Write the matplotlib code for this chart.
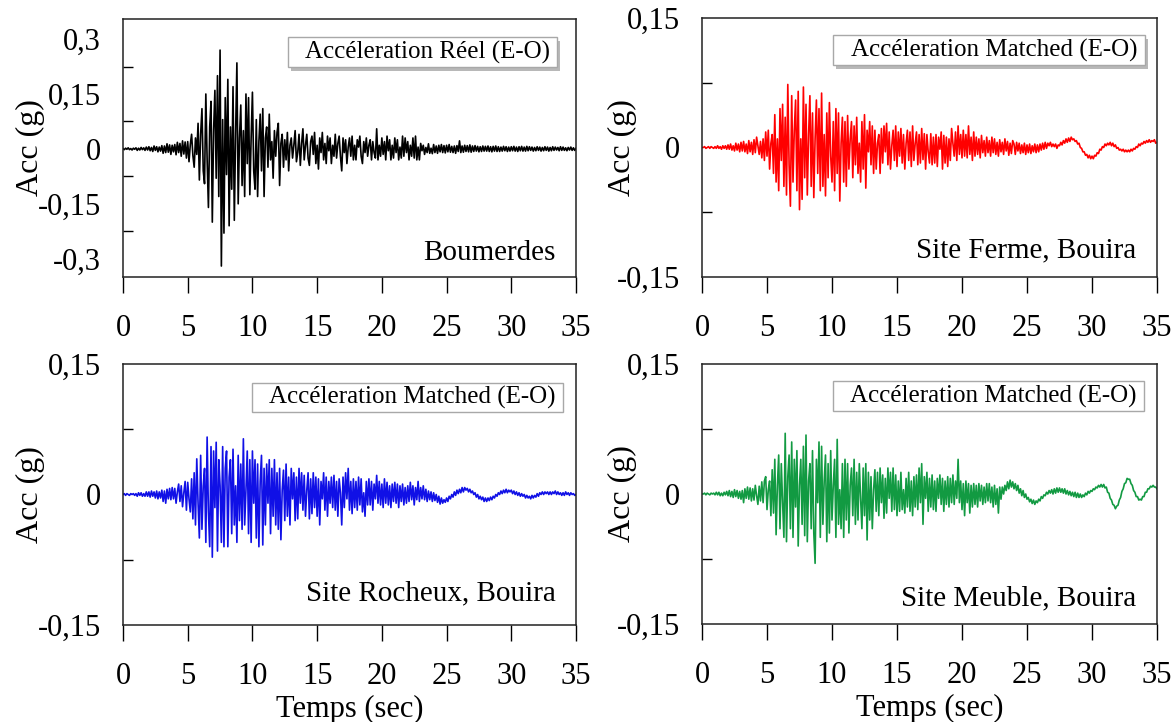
"""Accelerograms (E-O): real Boumerdes record and three matched records for Bouira sites."""
import numpy as np
import matplotlib
matplotlib.use("Agg")
import matplotlib.pyplot as plt
from matplotlib.patches import Rectangle

plt.rcParams["font.family"] = ["Liberation Serif", "DejaVu Serif"]

DT = 0.1  # sampling step of the values (s)

# Accélération réelle, Boumerdes (g), one row per second
ACC_BOUMERDES = [
    0.001, -0.002, 0.002, -0.001, 0.003, -0.002, 0.001, -0.003, 0.002, -0.001,
    0.003, -0.004, 0.002, -0.003, 0.004, -0.002, 0.003, -0.004, 0.005, -0.003,
    0.006, -0.005, 0.004, -0.007, 0.008, -0.004, 0.006, -0.008, 0.005, -0.006,
    0.009, -0.012, 0.008, -0.010, 0.014, -0.009, 0.011, -0.015, 0.010, -0.008,
    0.012, -0.016, 0.018, -0.010, 0.015, -0.020, 0.022, -0.014, 0.019, -0.025,
    0.020, -0.035, 0.012, 0.040, -0.018, -0.050, 0.030, -0.015, 0.070, -0.085,
    0.040, 0.110, -0.060, -0.095, 0.150, -0.030, -0.160, 0.060, 0.130, -0.200,
    0.050, 0.160, -0.080, 0.200, -0.130, 0.270, -0.320, 0.080, -0.230, 0.140,
    -0.070, 0.190, -0.210, 0.060, -0.110, 0.170, -0.195, 0.040, 0.235, -0.150,
    0.030, 0.120, -0.100, 0.050, -0.130, 0.150, -0.040, 0.140, -0.125, 0.030,
    0.155, -0.060, -0.110, 0.080, -0.130, 0.020, 0.095, -0.060, 0.110, -0.130,
    0.030, 0.060, -0.050, 0.095, -0.030, 0.020, -0.080, 0.050, -0.020, 0.045,
    0.070, -0.100, 0.015, 0.040, -0.050, 0.025, -0.030, 0.045, -0.060, 0.010,
    0.030, -0.025, 0.010, 0.050, -0.035, -0.010, 0.040, -0.045, 0.015, 0.055,
    -0.030, 0.010, 0.040, -0.025, -0.045, 0.020, 0.035, -0.015, 0.045, -0.040,
    0.010, -0.055, 0.030, -0.010, 0.045, -0.030, 0.015, -0.040, 0.035, -0.005,
    0.030, -0.040, 0.010, -0.020, 0.040, -0.025, 0.015, 0.035, -0.020, -0.060,
    0.030, -0.010, 0.025, -0.040, 0.005, 0.030, -0.020, 0.035, -0.030, 0.010,
    -0.030, 0.025, 0.005, 0.035, -0.020, -0.040, 0.020, -0.010, 0.030, -0.020,
    0.010, 0.025, -0.030, 0.020, -0.010, -0.025, 0.055, -0.030, 0.010, -0.020,
    0.030, -0.015, 0.020, -0.030, 0.035, -0.005, 0.025, -0.030, 0.010, -0.025,
    0.030, -0.010, 0.025, -0.030, 0.005, -0.025, 0.035, -0.020, 0.030, -0.010,
    0.020, -0.030, 0.010, -0.020, 0.030, -0.025, 0.035, -0.030, 0.005, -0.030,
    0.015, -0.005, 0.010, -0.015, 0.004, -0.010, 0.014, -0.012, 0.002, -0.013,
    0.012, -0.010, 0.008, -0.012, 0.010, -0.008, 0.012, -0.010, 0.009, -0.011,
    0.010, -0.008, 0.012, -0.009, 0.007, -0.010, 0.008, -0.012, 0.009, -0.007,
    0.022, -0.010, 0.008, -0.009, 0.010, -0.007, 0.009, -0.008, 0.011, -0.009,
    0.008, -0.007, 0.009, -0.006, 0.007, -0.008, 0.006, -0.007, 0.008, -0.006,
    0.007, -0.006, 0.008, -0.007, 0.006, -0.008, 0.007, -0.006, 0.008, -0.007,
    0.006, -0.007, 0.005, -0.006, 0.007, -0.005, 0.006, -0.007, 0.005, -0.006,
    0.006, -0.005, 0.007, -0.006, 0.005, -0.007, 0.006, -0.005, 0.007, -0.006,
    0.005, -0.006, 0.007, -0.005, 0.006, -0.004, 0.005, -0.006, 0.004, -0.005,
    0.006, -0.004, 0.005, -0.006, 0.004, -0.005, 0.006, -0.004, 0.005, -0.006,
    0.004, -0.005, 0.006, -0.004, 0.005, -0.003, 0.004, -0.005, 0.006, -0.004,
    0.005, -0.004, 0.003, -0.005, 0.004, -0.003, 0.005, -0.004, 0.003, -0.004,
    0.002,
]

# Accélération matched, site ferme (g)
ACC_FERME = [
    0.000, 0.000, 0.001, -0.001, 0.000, 0.001, -0.001, 0.001, 0.000, -0.001,
    0.001, -0.001, 0.002, -0.001, 0.001, -0.002, 0.002, -0.001, 0.002, -0.002,
    0.003, -0.002, 0.004, -0.003, 0.002, -0.004, 0.005, -0.003, 0.004, -0.005,
    0.006, -0.004, 0.007, -0.005, 0.004, -0.007, 0.008, -0.005, 0.006, -0.008,
    0.009, -0.006, 0.012, 0.002, -0.008, 0.007, -0.012, 0.010, -0.015, 0.018,
    -0.010, 0.020, -0.025, 0.005, 0.015, -0.030, 0.038, -0.040, 0.010, -0.050,
    0.045, -0.015, 0.050, -0.045, 0.035, -0.055, 0.073, -0.020, -0.068, 0.060,
    -0.040, 0.020, 0.055, -0.050, 0.065, -0.072, 0.010, -0.060, 0.070, -0.035,
    0.050, -0.055, 0.015, 0.060, -0.045, 0.040, -0.058, 0.010, 0.055, -0.030,
    0.045, -0.050, 0.063, -0.045, 0.015, -0.056, 0.040, -0.035, 0.052, -0.010,
    -0.040, 0.030, -0.050, 0.045, -0.030, 0.040, -0.062, 0.005, 0.035, -0.040,
    0.030, -0.045, 0.037, -0.025, 0.010, 0.030, -0.035, 0.025, -0.020, 0.035,
    -0.030, 0.005, -0.040, 0.030, -0.025, 0.038, -0.047, 0.020, -0.005, 0.030,
    -0.020, 0.025, -0.030, 0.020, -0.025, 0.005, 0.015, -0.030, 0.022, -0.018,
    0.025, -0.005, 0.028, -0.020, 0.018, -0.025, 0.002, 0.020, -0.015, 0.025,
    -0.022, 0.018, -0.010, 0.022, -0.018, 0.015, -0.025, 0.005, 0.020, -0.015,
    0.018, -0.022, 0.025, -0.015, 0.005, 0.018, -0.020, 0.015, -0.018, 0.022,
    -0.014, 0.016, -0.025, 0.015, -0.005, -0.018, 0.016, -0.020, 0.012, -0.018,
    0.015, -0.022, 0.012, -0.002, 0.018, -0.025, 0.014, -0.018, 0.012, -0.022,
    0.010, -0.015, 0.022, 0.005, -0.010, 0.018, -0.015, 0.025, -0.008, 0.015,
    -0.012, 0.020, -0.010, 0.015, -0.012, 0.025, -0.008, 0.012, -0.015, 0.018,
    -0.010, 0.012, -0.008, 0.010, -0.012, 0.014, -0.006, 0.008, -0.010, 0.012,
    -0.006, 0.008, -0.010, 0.012, -0.006, 0.010, -0.008, 0.006, -0.010, 0.009,
    -0.005, 0.006, -0.008, 0.010, -0.004, 0.007, -0.009, 0.005, -0.007, 0.008,
    0.004, -0.008, 0.006, -0.004, 0.005, -0.007, 0.003, -0.006, 0.005, -0.008,
    0.003, -0.006, 0.004, -0.007, 0.002, -0.005, 0.004, -0.006, 0.003, -0.005,
    0.004, -0.003, 0.005, -0.002, 0.006, -0.001, 0.005, 0.002, 0.006, 0.001,
    0.004, 0.001, 0.004, -0.001, 0.003, 0.002, 0.006, 0.003, 0.008, 0.005,
    0.010, 0.006, 0.011, 0.007, 0.012, 0.009, 0.010, 0.007, 0.008, 0.004,
    0.005, 0.000, -0.001, -0.005, -0.005, -0.009, -0.008, -0.012, -0.009, -0.013,
    -0.010, -0.013, -0.009, -0.010, -0.006, -0.007, -0.002, -0.003, 0.001, 0.000,
    0.004, 0.002, 0.005, 0.003, 0.006, 0.002, 0.005, 0.001, 0.003, -0.001,
    0.000, -0.003, -0.002, -0.004, -0.002, -0.005, -0.003, -0.005, -0.003, -0.005,
    -0.002, -0.004, -0.001, -0.002, 0.001, 0.000, 0.004, 0.002, 0.005, 0.004,
    0.007, 0.005, 0.008, 0.006, 0.009, 0.006, 0.008, 0.007, 0.009, 0.005,
    0.006,
]

# Accélération matched, site rocheux (g)
ACC_ROCHEUX = [
    0.000, 0.001, -0.001, 0.001, 0.000, -0.001, 0.001, 0.000, 0.001, -0.001,
    0.001, -0.002, 0.002, -0.001, 0.002, -0.002, 0.001, -0.002, 0.003, -0.002,
    0.003, -0.003, 0.004, -0.002, 0.003, -0.004, 0.004, -0.005, 0.003, -0.004,
    0.005, -0.008, 0.004, -0.010, 0.006, -0.005, 0.007, -0.006, 0.008, -0.005,
    0.007, -0.010, 0.003, 0.012, -0.008, 0.010, -0.014, 0.002, 0.015, -0.018,
    0.014, -0.005, -0.020, 0.018, -0.028, 0.025, -0.035, 0.041, -0.010, -0.050,
    0.045, -0.040, 0.010, 0.030, -0.055, 0.066, -0.020, -0.060, 0.055, -0.072,
    0.050, -0.015, 0.060, -0.065, 0.040, 0.010, -0.055, 0.055, -0.060, 0.030,
    0.050, -0.060, 0.020, 0.040, -0.045, 0.052, -0.035, 0.010, -0.055, 0.045,
    -0.030, 0.035, -0.040, 0.064, -0.035, 0.005, 0.050, -0.045, 0.040, -0.055,
    0.050, -0.010, 0.040, -0.050, 0.035, -0.060, 0.015, 0.045, -0.058, 0.030,
    -0.035, 0.035, -0.010, 0.040, -0.045, 0.030, -0.025, 0.040, -0.035, 0.025,
    -0.040, 0.030, -0.052, 0.005, 0.028, -0.030, 0.035, -0.025, 0.020, -0.035,
    0.030, -0.005, 0.025, -0.030, 0.020, -0.028, 0.030, -0.010, 0.025, -0.018,
    0.022, -0.025, 0.005, 0.025, -0.028, 0.018, -0.022, 0.025, -0.015, 0.020,
    -0.025, 0.018, -0.035, 0.015, -0.005, 0.025, -0.018, 0.020, -0.025, 0.015,
    -0.010, 0.020, -0.015, 0.022, -0.018, 0.015, -0.025, 0.018, 0.002, -0.035,
    0.020, -0.015, 0.025, -0.005, 0.030, -0.018, 0.015, -0.022, 0.018, -0.015,
    0.015, -0.018, 0.020, -0.012, 0.018, -0.020, 0.002, -0.025, 0.015, -0.012,
    0.018, -0.012, 0.015, -0.018, 0.012, -0.005, 0.022, -0.010, 0.015, -0.012,
    0.012, -0.015, 0.018, -0.010, 0.014, -0.012, 0.010, -0.015, 0.012, -0.008,
    0.014, -0.010, 0.012, -0.015, 0.010, -0.008, 0.012, -0.012, 0.008, -0.010,
    0.010, -0.008, 0.014, -0.006, 0.010, -0.012, 0.008, -0.006, 0.015, -0.008,
    0.008, -0.005, 0.010, -0.006, 0.006, -0.008, 0.004, -0.006, 0.003, -0.008,
    0.002, -0.007, 0.000, -0.009, -0.002, -0.011, -0.004, -0.010, -0.006, -0.009,
    -0.004, -0.008, -0.002, -0.005, 0.000, -0.003, 0.003, -0.001, 0.005, 0.001,
    0.006, 0.002, 0.008, 0.003, 0.008, 0.005, 0.007, 0.003, 0.006, 0.002,
    0.004, 0.000, 0.002, -0.003, 0.000, -0.005, -0.002, -0.006, -0.003, -0.008,
    -0.004, -0.008, -0.004, -0.007, -0.003, -0.006, -0.002, -0.004, 0.000, -0.002,
    0.002, 0.000, 0.004, 0.001, 0.005, 0.002, 0.006, 0.002, 0.005, 0.003,
    0.005, 0.001, 0.004, 0.000, 0.003, -0.001, 0.002, -0.002, 0.001, -0.002,
    0.000, -0.004, -0.001, -0.004, -0.002, -0.005, -0.001, -0.004, -0.001, -0.003,
    0.001, -0.002, 0.002, 0.000, 0.003, 0.000, 0.003, 0.001, 0.003, 0.000,
    0.003, 0.000, 0.003, 0.001, 0.004, 0.000, 0.003, 0.000, 0.002, -0.001,
    0.002, -0.001, 0.003, 0.000, 0.002, -0.001, 0.002, 0.000, 0.001, -0.001,
    0.000,
]

# Accélération matched, site meuble (g)
ACC_MEUBLE = [
    0.000, 0.000, 0.001, -0.001, 0.001, 0.000, -0.001, 0.001, 0.000, 0.001,
    -0.001, 0.002, -0.001, 0.002, -0.002, 0.001, -0.002, 0.002, -0.001, 0.003,
    -0.002, 0.004, -0.003, 0.003, -0.004, 0.005, -0.003, 0.004, -0.005, 0.003,
    -0.006, 0.004, -0.010, 0.006, -0.005, 0.008, -0.006, 0.007, -0.008, 0.006,
    -0.007, 0.010, -0.002, -0.012, 0.009, -0.008, 0.014, -0.010, 0.015, 0.020,
    -0.018, 0.005, 0.015, -0.025, 0.028, -0.022, 0.040, -0.047, 0.010, 0.045,
    -0.040, 0.035, -0.010, -0.050, 0.070, -0.055, 0.020, 0.045, -0.040, 0.060,
    -0.050, 0.040, -0.015, 0.050, -0.060, 0.010, 0.040, -0.035, 0.055, -0.048,
    0.068, -0.055, 0.015, 0.035, -0.040, 0.050, -0.045, -0.080, 0.040, -0.010,
    0.060, -0.050, 0.055, -0.035, 0.015, 0.045, -0.055, 0.035, -0.045, 0.050,
    -0.030, 0.010, 0.040, -0.050, 0.063, -0.035, 0.005, -0.040, 0.035, -0.050,
    0.040, -0.030, 0.035, -0.045, 0.010, 0.030, -0.025, 0.040, -0.035, 0.025,
    -0.030, 0.035, -0.005, -0.040, 0.030, -0.025, 0.035, -0.053, 0.025, -0.030,
    0.020, -0.040, 0.005, 0.028, -0.020, 0.025, -0.025, 0.030, -0.010, 0.022,
    -0.028, 0.018, -0.022, 0.030, -0.005, 0.025, -0.020, 0.030, -0.018, 0.022,
    -0.025, 0.015, -0.020, 0.025, -0.018, 0.005, -0.022, 0.018, -0.015, 0.025,
    -0.020, 0.015, -0.025, 0.020, -0.015, 0.022, -0.018, 0.030, -0.010, 0.035,
    -0.035, 0.020, -0.005, 0.025, -0.020, 0.018, -0.015, 0.022, -0.018, 0.015,
    -0.020, 0.018, -0.005, 0.022, -0.012, 0.018, -0.020, 0.015, -0.012, 0.020,
    -0.015, 0.018, -0.010, 0.022, -0.012, 0.015, -0.005, 0.040, -0.010, 0.015,
    -0.018, 0.012, -0.025, 0.015, -0.010, 0.012, -0.022, 0.010, -0.015, 0.012,
    -0.012, 0.010, -0.015, 0.012, -0.008, 0.010, -0.012, 0.008, -0.010, 0.012,
    -0.008, 0.012, -0.010, 0.008, -0.015, 0.010, -0.012, 0.006, -0.022, 0.008,
    -0.006, 0.008, 0.000, 0.010, 0.004, 0.014, 0.006, 0.016, 0.008, 0.014,
    0.006, 0.012, 0.004, 0.010, 0.001, 0.006, -0.002, 0.004, -0.004, 0.000,
    -0.006, -0.004, -0.009, -0.006, -0.011, -0.007, -0.012, -0.008, -0.010, -0.006,
    -0.008, -0.003, -0.005, -0.001, -0.002, 0.002, 0.000, 0.004, 0.001, 0.005,
    0.000, 0.006, 0.001, 0.007, 0.002, 0.007, 0.002, 0.006, 0.001, 0.006,
    0.000, 0.004, -0.001, 0.003, -0.002, 0.002, -0.003, 0.002, -0.004, 0.001,
    -0.004, 0.000, -0.004, -0.001, -0.003, 0.001, -0.001, 0.003, 0.001, 0.004,
    0.003, 0.006, 0.005, 0.008, 0.007, 0.010, 0.008, 0.011, 0.008, 0.011,
    0.007, 0.008, 0.002, 0.001, -0.005, -0.007, -0.012, -0.013, -0.017, -0.014,
    -0.013, -0.007, -0.004, 0.003, 0.006, 0.012, 0.013, 0.018, 0.017, 0.017,
    0.012, 0.010, 0.004, 0.002, -0.003, -0.003, -0.007, -0.006, -0.007, -0.003,
    -0.003, 0.002, 0.002, 0.006, 0.006, 0.009, 0.008, 0.010, 0.008, 0.008,
    0.006,
]

XTICKS = [0, 5, 10, 15, 20, 25, 30, 35]
YTICKS_REEL = [-0.3, -0.15, 0, 0.15, 0.3]
YLABELS_REEL = ["-0,3", "-0,15", "0", "0,15", "0,3"]
YMINOR_REEL = [-0.225, -0.075, 0.075, 0.225]
YTICKS_MATCH = [-0.15, 0, 0.15]
YLABELS_MATCH = ["-0,15", "0", "0,15"]
YMINOR_MATCH = [-0.075, 0.075]

FIG_W, FIG_H = 1174, 722

# (data, colour, box text, site text, axes rect in px [left, top, right, bottom],
#  ylim, ticks, labels, minor, box rect in axes coords, shadow, site y)
PANELS = [
    (ACC_BOUMERDES, "black", "Accéleration Réel (E-O)", "Boumerdes",
     (123, 19, 576, 277), (-0.35, 0.355), YTICKS_REEL, YLABELS_REEL, YMINOR_REEL,
     (0.364, 0.814, 0.958, 0.930), True, 0.093),
    (ACC_FERME, "#ff0000", "Accéleration Matched (E-O)", "Site Ferme, Bouira",
     (702, 18, 1157, 277), (-0.15, 0.15), YTICKS_MATCH, YLABELS_MATCH, YMINOR_MATCH,
     (0.288, 0.819, 0.974, 0.934), True, 0.104),
    (ACC_ROCHEUX, "#1010e6", "Accéleration Matched (E-O)", "Site Rocheux, Bouira",
     (123, 364, 576, 625), (-0.15, 0.15), YTICKS_MATCH, YLABELS_MATCH, YMINOR_MATCH,
     (0.285, 0.816, 0.971, 0.927), False, 0.123),
    (ACC_MEUBLE, "#129a42", "Accéleration Matched (E-O)", "Site Meuble, Bouira",
     (702, 364, 1157, 624), (-0.15, 0.15), YTICKS_MATCH, YLABELS_MATCH, YMINOR_MATCH,
     (0.288, 0.819, 0.971, 0.935), False, 0.100),
]

fig = plt.figure(figsize=(FIG_W / 100, FIG_H / 100), dpi=100, facecolor="white")

for i, (acc, color, box_txt, site_txt, rect, ylim, yt, yl, ym,
        box, shadow, site_y) in enumerate(PANELS):
    l, t, r, b = rect
    ax = fig.add_axes([l / FIG_W, 1 - b / FIG_H, (r - l) / FIG_W, (b - t) / FIG_H])
    acc = np.asarray(acc)
    time = np.arange(len(acc)) * DT
    ax.plot(time, acc, color=color, lw=1.2)

    ax.set_xlim(0, 35)
    ax.set_ylim(*ylim)
    ax.set_xticks(XTICKS)
    ax.set_yticks(yt)
    ax.set_yticklabels(yl)
    ax.set_yticks(ym, minor=True)
    ax.tick_params(axis="x", direction="out", length=11.5, width=1.0,
                   labelsize=22, pad=15)
    ax.tick_params(axis="y", which="major", length=0, labelsize=22, pad=16)
    ax.tick_params(axis="y", which="minor", direction="in", length=7, width=1.0)
    for sp in ax.spines.values():
        sp.set_linewidth(1.1)
        sp.set_color("#222222")

    # y label, centred on the axes
    lx = 30 if l < 400 else 622
    fig.text(lx / FIG_W, 1 - (t + b) / 2 / FIG_H, "Acc (g)", rotation=90,
             ha="center", va="center", fontsize=23)
    if i >= 2:
        ax.set_xlabel("Temps (sec)", fontsize=22, labelpad=3)

    # legend-like box
    x0, y0, x1, y1 = box
    if shadow:
        ax.add_patch(Rectangle((x0 + 0.007, y0 - 0.014), x1 - x0, y1 - y0,
                               transform=ax.transAxes, facecolor="#b8b8b8",
                               edgecolor="none", zorder=4))
    ax.add_patch(Rectangle((x0, y0), x1 - x0, y1 - y0, transform=ax.transAxes,
                           facecolor="white", edgecolor="#a8a8a8", lw=1.0, zorder=5))
    ax.text(x1 - 0.016, (y0 + y1) / 2, box_txt, transform=ax.transAxes,
            ha="right", va="center", fontsize=18, zorder=6)
    ax.text(0.955, site_y, site_txt, transform=ax.transAxes,
            ha="right", va="center", fontsize=21)

fig.savefig("out.png", dpi=100, facecolor="white")
